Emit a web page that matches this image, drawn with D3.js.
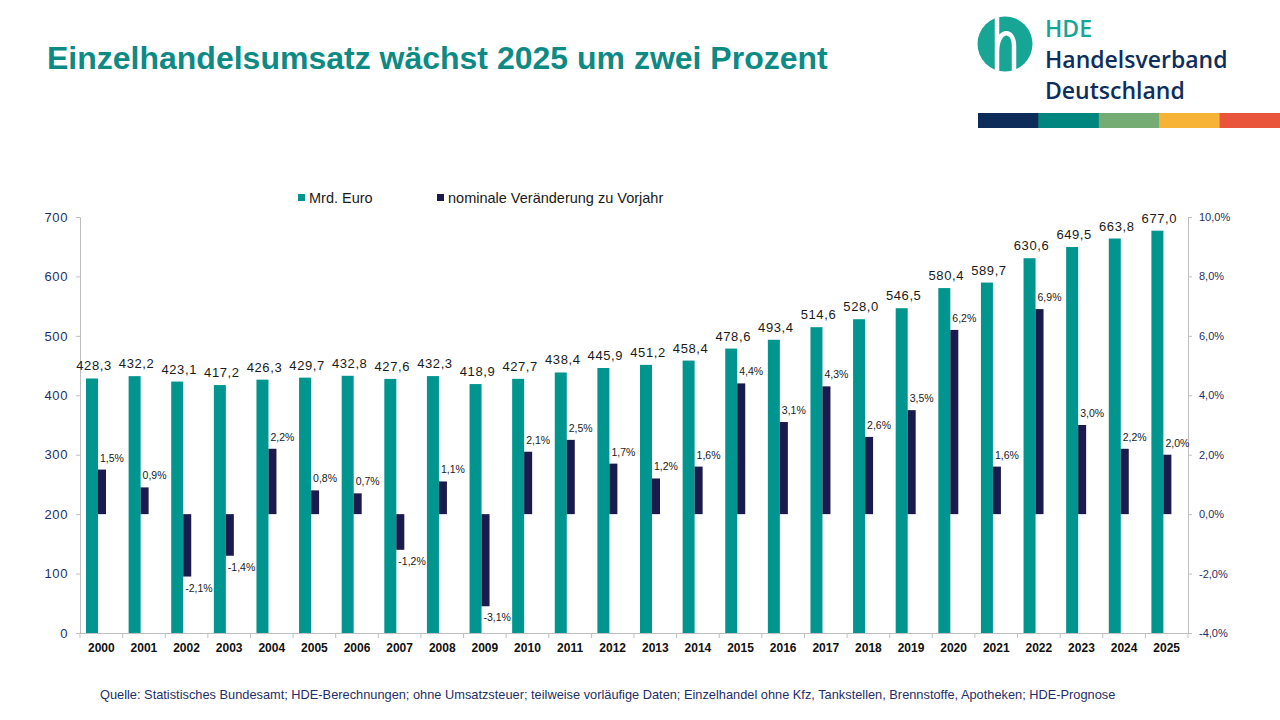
<!DOCTYPE html>
<html>
<head>
<meta charset="utf-8">
<script src="https://cdn.jsdelivr.net/npm/d3@7"></script>
<style>
  body { margin: 0; background: #fff; }
  svg { display: block; font-family: "Liberation Sans", Arial, sans-serif; }
</style>
</head>
<body>
<svg id="chart" width="1280" height="720"></svg>
<script>
// Daten
const jahre = ["2000","2001","2002","2003","2004","2005","2006","2007","2008","2009","2010","2011","2012",
               "2013","2014","2015","2016","2017","2018","2019","2020","2021","2022","2023","2024","2025"];
const umsatz = [428.3, 432.2, 423.1, 417.2, 426.3, 429.7, 432.8, 427.6, 432.3, 418.9, 427.7, 438.4, 445.9,
                451.2, 458.4, 478.6, 493.4, 514.6, 528.0, 546.5, 580.4, 589.7, 630.6, 649.5, 663.8, 677.0];
const veraenderung = [1.5, 0.9, -2.1, -1.4, 2.2, 0.8, 0.7, -1.2, 1.1, -3.1, 2.1, 2.5, 1.7,
                      1.2, 1.6, 4.4, 3.1, 4.3, 2.6, 3.5, 6.2, 1.6, 6.9, 3.0, 2.2, 2.0];
const linksTicks = [0, 100, 200, 300, 400, 500, 600, 700];
const rechtsTicks = [-4, -2, 0, 2, 4, 6, 8, 10];
const legende = ["Mrd. Euro", "nominale Veränderung zu Vorjahr"];

const data = jahre.map((j, i) => ({ jahr: j, wert: umsatz[i], proz: veraenderung[i] }));

const de = d3.formatLocale({ decimal: ",", thousands: ".", grouping: [3], currency: ["", " €"], minus: "-" });
const f1 = de.format(".1f");

const svg = d3.select("#chart");
const teal = "#00968f";
const navy = "#1b1a4d";
const achsenFarbe = "#1f2f66";

// Titel
svg.append("text")
   .attr("x", 47).attr("y", 69)
   .attr("font-size", 32).attr("font-weight", "bold")
   .attr("fill", "#0d8a84")
   .text("Einzelhandelsumsatz wächst 2025 um zwei Prozent");

// Logo
const logo = svg.append("g");
logo.append("circle").attr("cx", 1005).attr("cy", 44).attr("r", 27.5).attr("fill", "#17a596");
logo.append("path")
    .attr("d", "M997,14 V74 M997,52 C997,28 1014,28 1014,46 V74")
    .attr("fill", "none").attr("stroke", "#fff").attr("stroke-width", 4.5);
const logoText = [["HDE", 37, "#17a596"], ["Handelsverband", 68, "#0f2e5c"], ["Deutschland", 99, "#0f2e5c"]];
logo.selectAll("text").data(logoText).join("text")
    .attr("x", 1045).attr("y", d => d[1])
    .attr("font-family", "'Open Sans', sans-serif").attr("font-weight", 600)
    .attr("font-size", 23).attr("fill", d => d[2]).text(d => d[0]);
const streifen = ["#0d2c5a", "#00857f", "#74ac74", "#f7b335", "#e8553a"];
const sx = d3.scaleBand().domain(d3.range(streifen.length)).range([978, 1280]);
logo.selectAll("rect").data(streifen).join("rect")
    .attr("x", (d, i) => sx(i)).attr("y", 113)
    .attr("width", sx.bandwidth() + 0.5).attr("height", 15)
    .attr("fill", d => d);

// Skalen
const x = d3.scaleBand().domain(jahre).range([80, 1188]);
const yL = d3.scaleLinear().domain([0, 700]).range([633, 217]);
const yR = d3.scaleLinear().domain([-4, 10]).range([633, 217]);

// Achsen
const gL = svg.append("g").attr("transform", "translate(80,0)")
   .call(d3.axisLeft(yL).tickValues(linksTicks).tickSize(4).tickPadding(8).tickFormat(d3.format("d")));
gL.selectAll("text").attr("font-size", 13).attr("fill", achsenFarbe).attr("font-family", "Liberation Sans, Arial").attr("letter-spacing", 0.6);

const gR = svg.append("g").attr("transform", "translate(1188,0)")
   .call(d3.axisRight(yR).tickValues(rechtsTicks).tickSize(4).tickPadding(7).tickFormat(d => f1(d) + "%"));
gR.selectAll("text").attr("font-size", 11).attr("fill", achsenFarbe).attr("font-family", "Liberation Sans, Arial");

const gB = svg.append("g").attr("transform", "translate(0,633)")
   .call(d3.axisBottom(x).tickSize(0).tickPadding(10));
gB.selectAll("text").attr("font-size", 12).attr("font-weight", "bold").attr("fill", "#111").attr("font-family", "Liberation Sans, Arial");
gB.selectAll(".tick-edge").data(jahre.map(j => x(j)).concat([x.range()[1]])).join("line")
   .attr("class", "tick-edge")
   .attr("x1", d => d).attr("x2", d => d).attr("y1", 0).attr("y2", 5);

[gL, gR, gB].forEach(g => {
  g.selectAll(".domain").attr("stroke", "#bfbfbf");
  g.selectAll("line").attr("stroke", "#bfbfbf");
});

// Balken Umsatz
const bw = 12, pw = 8;
svg.append("g").selectAll("rect").data(data).join("rect")
   .attr("x", d => x(d.jahr) + 6)
   .attr("y", d => yL(d.wert))
   .attr("width", bw)
   .attr("height", d => yL(0) - yL(d.wert))
   .attr("fill", teal);

// Balken Veränderung
svg.append("g").selectAll("rect").data(data).join("rect")
   .attr("x", d => x(d.jahr) + 6 + bw)
   .attr("y", d => yR(Math.max(0, d.proz)))
   .attr("width", pw)
   .attr("height", d => Math.abs(yR(d.proz) - yR(0)))
   .attr("fill", navy);

// Beschriftungen
svg.append("g").selectAll("text").data(data).join("text")
   .attr("x", d => x(d.jahr) + 6 + bw / 2 + 2)
   .attr("y", d => yL(d.wert) - 8)
   .attr("text-anchor", "middle")
   .attr("font-size", 13).attr("letter-spacing", 0.6)
   .attr("fill", "#1a1a1a")
   .text(d => f1(d.wert));

svg.append("g").selectAll("text").data(data).join("text")
   .attr("x", d => x(d.jahr) + 6 + bw + 2)
   .attr("y", d => d.proz >= 0 ? yR(d.proz) - 8 : yR(d.proz) + 15)
   .attr("font-size", 10.5)
   .attr("fill", "#1a1a1a")
   .text(d => f1(d.proz) + "%");

// Legende
const lx = [298, 437];
const leg = svg.append("g").selectAll("g").data(legende).join("g")
   .attr("transform", (d, i) => `translate(${lx[i]},198)`);
leg.append("rect").attr("x", 0).attr("y", -4).attr("width", 7).attr("height", 7)
   .attr("fill", (d, i) => i === 0 ? teal : navy);
leg.append("text").attr("x", 11).attr("y", 5).attr("font-size", 14.5).attr("fill", "#1a1a1a").text(d => d);

// Quelle
svg.append("text")
   .attr("x", 100).attr("y", 699)
   .attr("font-size", 12.8).attr("fill", achsenFarbe)
   .text("Quelle: Statistisches Bundesamt; HDE-Berechnungen; ohne Umsatzsteuer; teilweise vorläufige Daten; Einzelhandel ohne Kfz, Tankstellen, Brennstoffe, Apotheken; HDE-Prognose");
</script>
</body>
</html>
